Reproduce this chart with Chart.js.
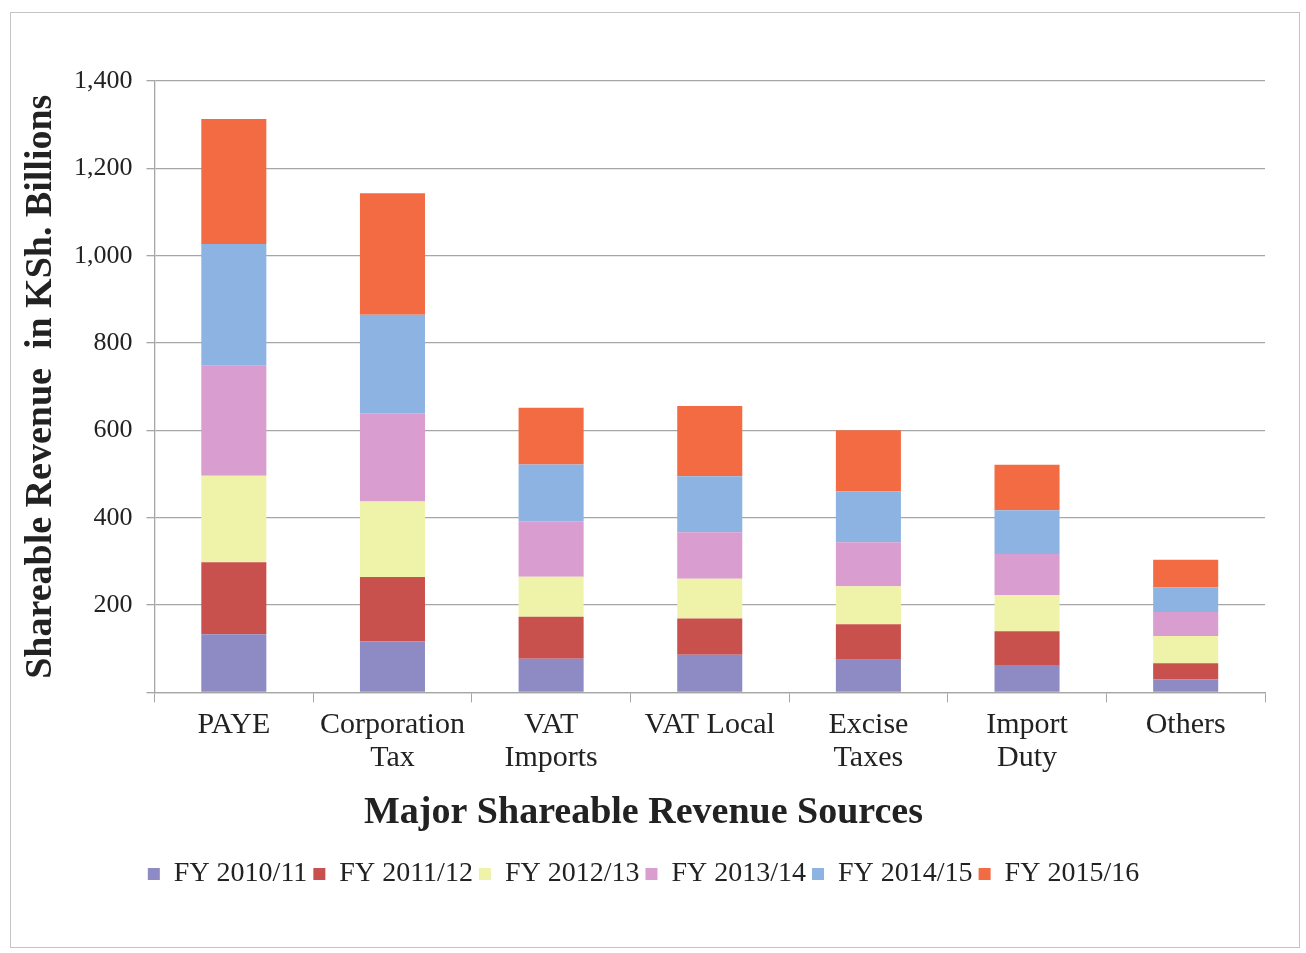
<!DOCTYPE html>
<html lang="en">
<head>
    <meta charset="UTF-8">
    <title>Major Shareable Revenue Sources</title>
    <script src="https://cdn.jsdelivr.net/npm/chart.js"></script>
    <style>
        html, body {
            margin: 0;
            padding: 0;
            background: #fff;
        }
        .frame {
            position: absolute;
            left: 10px;
            top: 12px;
            width: 1288px;
            height: 934px;
            border: 1.5px solid #c4c4c4;
        }
        .chart-box {
            position: absolute;
            left: 0;
            top: 0;
            width: 1306px;
            height: 953px;
        }
    </style>
</head>
<body>
<div class="frame"></div>
<div class="chart-box">
    <canvas id="revenueChart"></canvas>
</div>
<script>
// categories (x axis)
const categories = ['PAYE', ['Corporation', 'Tax'], ['VAT', 'Imports'], 'VAT Local', ['Excise', 'Taxes'], ['Import', 'Duty'], 'Others'];

// values per fiscal year, KSh. billions
const fy1011 = [133, 117, 77, 86, 75, 63, 30];
const fy1112 = [165, 147, 96, 83, 81, 77, 37];
const fy1213 = [198, 173, 92, 91, 87, 83, 62];
const fy1314 = [252, 202, 127, 107, 101, 94, 55];
const fy1415 = [279, 226, 130, 128, 116, 100, 56];
const fy1516 = [286, 278, 130, 161, 140, 104, 64];

const yTicks = [0, 200, 400, 600, 800, 1000, 1200, 1400];

const serif = "'Liberation Serif', 'DejaVu Serif', serif";
const gridColor = '#a6a6a6';

const ctx = document.getElementById('revenueChart').getContext('2d');
const chart = new Chart(ctx, {
    type: 'bar',
    data: {
        labels: categories,
        datasets: [
            { label: 'FY 2010/11', data: fy1011, backgroundColor: '#8e8ac3' },
            { label: 'FY 2011/12', data: fy1112, backgroundColor: '#c8514d' },
            { label: 'FY 2012/13', data: fy1213, backgroundColor: '#eff3aa' },
            { label: 'FY 2013/14', data: fy1314, backgroundColor: '#d99dcf' },
            { label: 'FY 2014/15', data: fy1415, backgroundColor: '#8db3e2' },
            { label: 'FY 2015/16', data: fy1516, backgroundColor: '#f26b43' }
        ]
    },
    options: {
        responsive: true,
        maintainAspectRatio: false,
        animation: false,
        layout: { padding: { top: 81, right: 41, bottom: 55, left: 22 } },
        datasets: { bar: { barPercentage: 0.41, categoryPercentage: 1 } },
        plugins: {
            tooltip: { enabled: false },
            legend: {
                position: 'bottom',
                // x axis title sits left of the plot centre, so it rides on the legend box
                title: {
                    display: true,
                    text: 'Major Shareable Revenue Sources',
                    color: '#222',
                    font: { family: serif, size: 38, weight: 'bold' },
                    padding: { top: 14, bottom: 14 }
                },
                labels: {
                    color: '#222',
                    font: { family: serif, size: 28 },
                    boxWidth: 12,
                    boxHeight: 12,
                    padding: 6
                }
            }
        },
        scales: {
            x: {
                stacked: true,
                grid: { drawOnChartArea: false, color: gridColor, tickLength: 10, offset: true },
                border: { color: gridColor, width: 1.3 },
                ticks: {
                    color: '#222',
                    font: { family: serif, size: 30, lineHeight: 1.1 },
                    padding: 6,
                    maxRotation: 0,
                    autoSkip: false
                }
            },
            y: {
                stacked: true,
                min: yTicks[0],
                max: yTicks[yTicks.length - 1],
                afterBuildTicks: axis => { axis.ticks = yTicks.map(v => ({ value: v })); },
                grid: { color: gridColor, lineWidth: 1.3, tickLength: 8 },
                border: { color: gridColor, width: 1.3 },
                ticks: {
                    color: '#222',
                    font: { family: serif, size: 26 },
                    padding: 14,
                    callback: v => v === 0 ? '' : v.toLocaleString('en-US')
                },
                title: {
                    display: true,
                    text: 'Shareable Revenue  in KSh. Billions',
                    color: '#222',
                    font: { family: serif, size: 38, weight: 'bold', lineHeight: 1.0 },
                    padding: { top: 0, bottom: 0 }
                }
            }
        }
    }
});
</script>
</body>
</html>
